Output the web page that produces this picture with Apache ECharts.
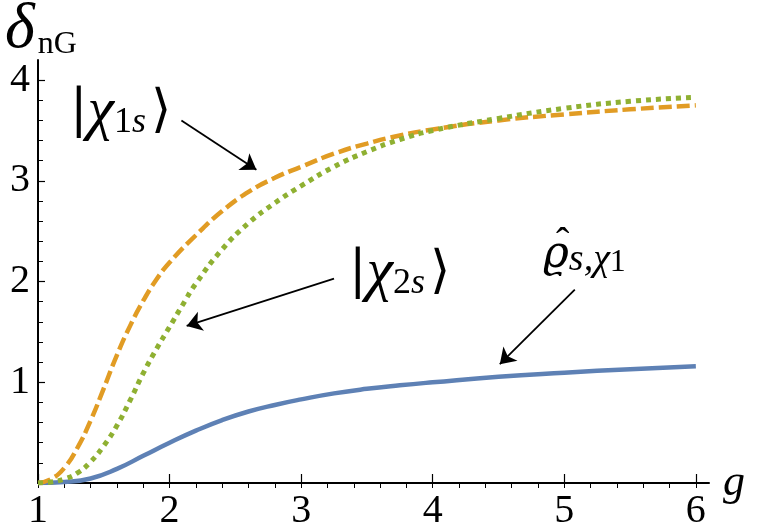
<!DOCTYPE html>
<html>
<head>
<meta charset="utf-8">
<script src="https://cdn.jsdelivr.net/npm/echarts@6/dist/echarts.min.js"></script>
<style>
  html, body { margin: 0; padding: 0; background: #fff; }
  #chart { width: 757px; height: 531px; }
</style>
</head>
<body>
<div id="chart"></div>
<script>
// values
const gOrange = [1.0, 1.1, 1.2, 1.3, 1.4, 1.5, 1.6, 1.7, 1.8, 1.9, 2.0, 2.2, 2.4, 2.6, 2.8, 3.0, 3.25, 3.5, 3.75, 4.0, 4.5, 5.0, 5.5, 6.0];
const chi1s = [0, 0.04, 0.15, 0.35, 0.62, 0.94, 1.27, 1.56, 1.81, 2.02, 2.19, 2.46, 2.70, 2.89, 3.03, 3.14, 3.27, 3.37, 3.45, 3.51, 3.60, 3.66, 3.71, 3.75];

const gGreen = [1.0, 1.1, 1.2, 1.3, 1.4, 1.5, 1.6, 1.7, 1.8, 1.9, 2.0, 2.1, 2.2, 2.4, 2.6, 2.8, 3.0, 3.25, 3.5, 3.75, 4.0, 4.5, 5.0, 5.5, 6.0];
const chi2s = [0, 0.01, 0.04, 0.10, 0.21, 0.37, 0.57, 0.82, 1.09, 1.33, 1.55, 1.77, 1.98, 2.32, 2.58, 2.78, 2.95, 3.14, 3.29, 3.41, 3.50, 3.62, 3.72, 3.79, 3.83];

const gBlue = [1.0, 1.2, 1.4, 1.6, 1.8, 2.0, 2.2, 2.4, 2.6, 2.8, 3.0, 3.25, 3.5, 3.75, 4.0, 4.5, 5.0, 5.5, 6.0];
const rhoS = [0, 0.01, 0.045, 0.14, 0.27, 0.40, 0.52, 0.625, 0.71, 0.775, 0.83, 0.89, 0.935, 0.97, 1.00, 1.055, 1.095, 1.13, 1.16];

const xTickLabels = [1, 2, 3, 4, 5, 6];
const yTickLabels = [1, 2, 3, 4];

// annotation arrows: [start, tip] in data units
const arrows = [
  [[2.09, 3.60], [2.66, 3.11]],
  [[3.25, 2.03], [2.13, 1.56]],
  [[5.08, 1.92], [4.51, 1.18]]
];

const zip = (xs, ys) => xs.map((x, i) => [x, ys[i]]);

// minor ticks every 0.2
let xMinor = [], yMinor = [];
for (let i = 0; i <= 25; i++) xMinor.push(+(1 + i * 0.2).toFixed(2));
for (let i = 1; i <= 20; i++) yMinor.push(+(i * 0.2).toFixed(2));

const serif = "'Liberation Serif', 'Times New Roman', Times, 'DejaVu Serif', serif";
const ink = '#000';

let myChart = echarts.init(document.getElementById('chart'), null, { renderer: 'canvas' });

let axisCommon = {
  type: 'value',
  axisLine: { show: true, lineStyle: { color: ink, width: 2 } },
  splitLine: { show: false },
  minorTick: { show: false }
};

// subscripted label: |χ_{ns}⟩
let ketStyle = {
  b: { fontFamily: 'DejaVu Serif', fontSize: 52, lineHeight: 58, verticalAlign: 'middle' },
  c: { fontFamily: serif, fontStyle: 'italic', fontSize: 60, lineHeight: 58, verticalAlign: 'middle' },
  n: { fontFamily: serif, fontSize: 36, lineHeight: 48, verticalAlign: 'bottom' },
  i: { fontFamily: serif, fontStyle: 'italic', fontSize: 36, lineHeight: 48, verticalAlign: 'bottom', padding: [0, 5, 0, 0] }
};

let option = {
  animation: false,
  backgroundColor: '#fff',
  grid: { left: 38, right: 48, top: 60, bottom: 47 },
  xAxis: [
    Object.assign({}, axisCommon, {
      min: 1, max: 6.1,
      axisTick: { show: true, inside: true, length: 9, lineStyle: { color: ink, width: 1.2 }, customValues: xTickLabels },
      axisLabel: { customValues: xTickLabels, margin: 8, color: ink, fontFamily: serif, fontSize: 40 },
      name: 'g', nameLocation: 'end', nameGap: 14,
      nameTextStyle: { fontFamily: serif, fontStyle: 'italic', fontSize: 44, color: ink, verticalAlign: 'middle', padding: [0, 0, 8, 0] }
    }),
    Object.assign({}, axisCommon, {
      min: 1, max: 6.1,
      axisLine: { show: false },
      axisTick: { show: true, inside: true, length: 5, lineStyle: { color: ink, width: 1 }, customValues: xMinor },
      axisLabel: { show: false }
    })
  ],
  yAxis: [
    Object.assign({}, axisCommon, {
      min: 0, max: 4.2,
      axisTick: { show: true, inside: true, length: 7, lineStyle: { color: ink, width: 1.2 }, customValues: yTickLabels },
      axisLabel: { customValues: yTickLabels, margin: 8, color: ink, fontFamily: serif, fontSize: 40 }
    }),
    Object.assign({}, axisCommon, {
      min: 0, max: 4.2, position: 'left',
      axisLine: { show: false },
      axisTick: { show: true, inside: true, length: 5, lineStyle: { color: ink, width: 1 }, customValues: yMinor },
      axisLabel: { show: false }
    })
  ],
  series: [
    {
      type: 'line', name: 'rho', data: zip(gBlue, rhoS), smooth: 0.5,
      showSymbol: false, lineStyle: { color: '#5E81B5', width: 4.5 },
      markLine: {
        silent: true, symbol: ['none', 'arrow'], symbolSize: 15,
        label: { show: false },
        lineStyle: { color: ink, width: 1.8, type: 'solid' },
        data: arrows.map(a => [{ coord: a[0] }, { coord: a[1] }])
      }
    },
    {
      type: 'line', name: 'chi1s', data: zip(gOrange, chi1s), smooth: 0.5,
      showSymbol: false, lineStyle: { color: '#E19C24', width: 4.5, type: [13, 5] }
    },
    {
      type: 'line', name: 'chi2s', data: zip(gGreen, chi2s), smooth: 0.5,
      showSymbol: false, lineStyle: { color: '#8FB032', width: 5, type: [5, 5] }
    }
  ],
  graphic: [
    {
      type: 'text', left: 5, top: -2,
      style: {
        text: '{d|δ}{s|nG}', fill: ink,
        rich: {
          d: { fontFamily: serif, fontStyle: 'italic', fontSize: 64, lineHeight: 62, verticalAlign: 'middle', padding: [0, 3, 0, 0] },
          s: { fontFamily: serif, fontSize: 32, lineHeight: 48, verticalAlign: 'bottom' }
        }
      }
    },
    {
      type: 'text', left: 70, top: 82,
      style: { text: '{b||}{c|χ}{n|1}{i|s}{b|⟩}', fill: ink, rich: ketStyle }
    },
    {
      type: 'text', left: 349, top: 243,
      style: { text: '{b||}{c|χ}{n|2}{i|s}{b|⟩}', fill: ink, rich: ketStyle }
    },
    {
      type: 'text', left: 556, top: 224,
      style: { text: 'ˆ', fill: ink, fontFamily: serif, fontSize: 40 }
    },
    {
      type: 'text', left: 543, top: 234,
      style: {
        text: '{r|ϱ}{i|s,χ}{n|1}', fill: ink,
        rich: {
          r: { fontFamily: 'DejaVu Serif', fontStyle: 'italic', fontSize: 44, lineHeight: 46, verticalAlign: 'middle' },
          i: { fontFamily: serif, fontStyle: 'italic', fontSize: 38, lineHeight: 44, verticalAlign: 'bottom' },
          n: { fontFamily: serif, fontSize: 32, lineHeight: 44, verticalAlign: 'bottom' }
        }
      }
    }
  ]
};

myChart.setOption(option);
window.addEventListener('resize', function () { myChart.resize(); });
</script>
</body>
</html>
